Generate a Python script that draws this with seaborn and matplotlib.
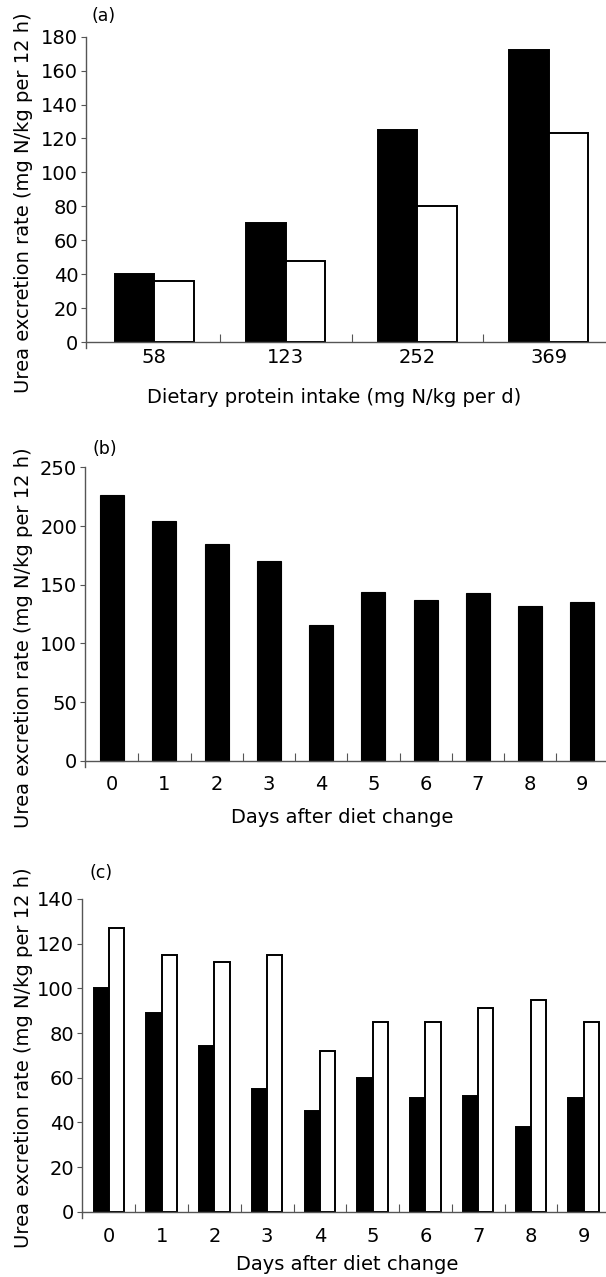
import numpy as np
import pandas as pd
import matplotlib.pyplot as plt
import seaborn as sns

# panel (a): urea excretion vs dietary protein intake
intake_labels = ["58", "123", "252", "369"]
a_dark = [40, 70, 125, 172]
a_open = [36, 48, 80, 123]

# panel (b): urea excretion after the diet change
days = ["0", "1", "2", "3", "4", "5", "6", "7", "8", "9"]
b_rate = [226, 204, 185, 170, 116, 144, 137, 143, 132, 135]

# panel (c): two series after the diet change
c_dark = [100, 89, 74, 55, 45, 60, 51, 52, 38, 51]
c_open = [127, 115, 112, 115, 72, 85, 85, 91, 95, 85]

ylab = "Urea excretion rate (mg N/kg per 12 h)"
W, H = 606, 1277
FS = 14
GREY = "#555555"

sns.set_style("ticks")
plt.rcParams["font.family"] = ["DejaVu Sans"]
plt.rcParams["text.color"] = "black"
plt.rcParams["axes.labelcolor"] = "black"

fig = plt.figure(figsize=(W / 100, H / 100), dpi=100)


def fx(px):
    return px / W


def fy(px):
    return 1 - px / H


def make_axes(top, zero, left, ymax, c0, cw, ext=6):
    # top/zero/left in pixels, c0 = left edge of first category, cw = category width
    bottom = zero + ext
    ax = fig.add_axes([fx(left), fy(bottom), (W - left) / W, (bottom - top) / H])
    ymin = -ymax * ext / (zero - top)
    x0 = -0.5 - (c0 - left) / cw
    x1 = x0 + (W - left) / cw
    return ax, (ymin, ymax), (x0, x1)


def style(ax, ylim, xlim, ystep, n, pad, tag, tag_xy, xlabel, xlab_xy, ylab_y):
    ax.set_ylim(*ylim)
    ax.set_xlim(*xlim)
    ax.set_yticks(np.arange(0, ylim[1] + 1, ystep))
    ax.set_xticks(np.arange(0.5, n - 0.5, 1), minor=True)
    for s in ["top", "right"]:
        ax.spines[s].set_visible(False)
    ax.spines["bottom"].set_position(("data", 0))
    for s in ["left", "bottom"]:
        ax.spines[s].set_color(GREY)
        ax.spines[s].set_linewidth(1.0)
    ax.tick_params(axis="y", length=3.6, width=0.8, color=GREY, pad=2,
                   labelsize=FS, labelcolor="black")
    ax.tick_params(axis="x", which="major", length=0, pad=pad,
                   labelsize=FS, labelcolor="black")
    ax.tick_params(axis="x", which="minor", direction="in", length=5.5, width=0.8, color=GREY)
    ax.set_ylabel(ylab, fontsize=FS)
    ax.yaxis.set_label_coords(fx(33), fy(ylab_y), transform=fig.transFigure)
    ax.set_xlabel(xlabel, fontsize=FS)
    ax.xaxis.set_label_coords(fx(xlab_xy[0]), fy(xlab_xy[1]), transform=fig.transFigure)
    fig.text(fx(tag_xy[0]), fy(tag_xy[1]), tag, fontsize=12.5, ha="center", va="center")


# ---- (a)
df_a = pd.DataFrame({
    "intake": intake_labels * 2,
    "rate": a_dark + a_open,
    "group": ["dark"] * len(a_dark) + ["open"] * len(a_open),
})
ax, yl, xl = make_axes(36.7, 342, 86, 180, 88.5, 131.5)
sns.barplot(data=df_a, x="intake", y="rate", hue="group", palette=["black", "white"],
            edgecolor="black", linewidth=1.4, width=0.6, legend=False, ax=ax)
style(ax, yl, xl, 20, 4, 4, "(a)", (104, 16),
      "Dietary protein intake (mg N/kg per d)", (334, 388), 203)

# ---- (b)
df_b = pd.DataFrame({"day": days, "rate": b_rate})
ax, yl, xl = make_axes(467.3, 760.8, 85, 250, 86, 52.25)
sns.barplot(data=df_b, x="day", y="rate", color="black", edgecolor="black",
            linewidth=0.8, width=0.46, ax=ax)
style(ax, yl, xl, 50, 10, 10, "(b)", (105, 449),
      "Days after diet change", (342.5, 808), 637.5)

# ---- (c)
df_c = pd.DataFrame({
    "day": days * 2,
    "rate": c_dark + c_open,
    "group": ["dark"] * len(c_dark) + ["open"] * len(c_open),
})
ax, yl, xl = make_axes(899, 1211.7, 82, 140, 82.5, 52.75)
sns.barplot(data=df_c, x="day", y="rate", hue="group", palette=["black", "white"],
            edgecolor="black", linewidth=1.4, width=0.58, legend=False, ax=ax)
style(ax, yl, xl, 20, 10, 11, "(c)", (101, 873),
      "Days after diet change", (347.5, 1255), 1057.5)

fig.savefig("out.png", dpi=100)
